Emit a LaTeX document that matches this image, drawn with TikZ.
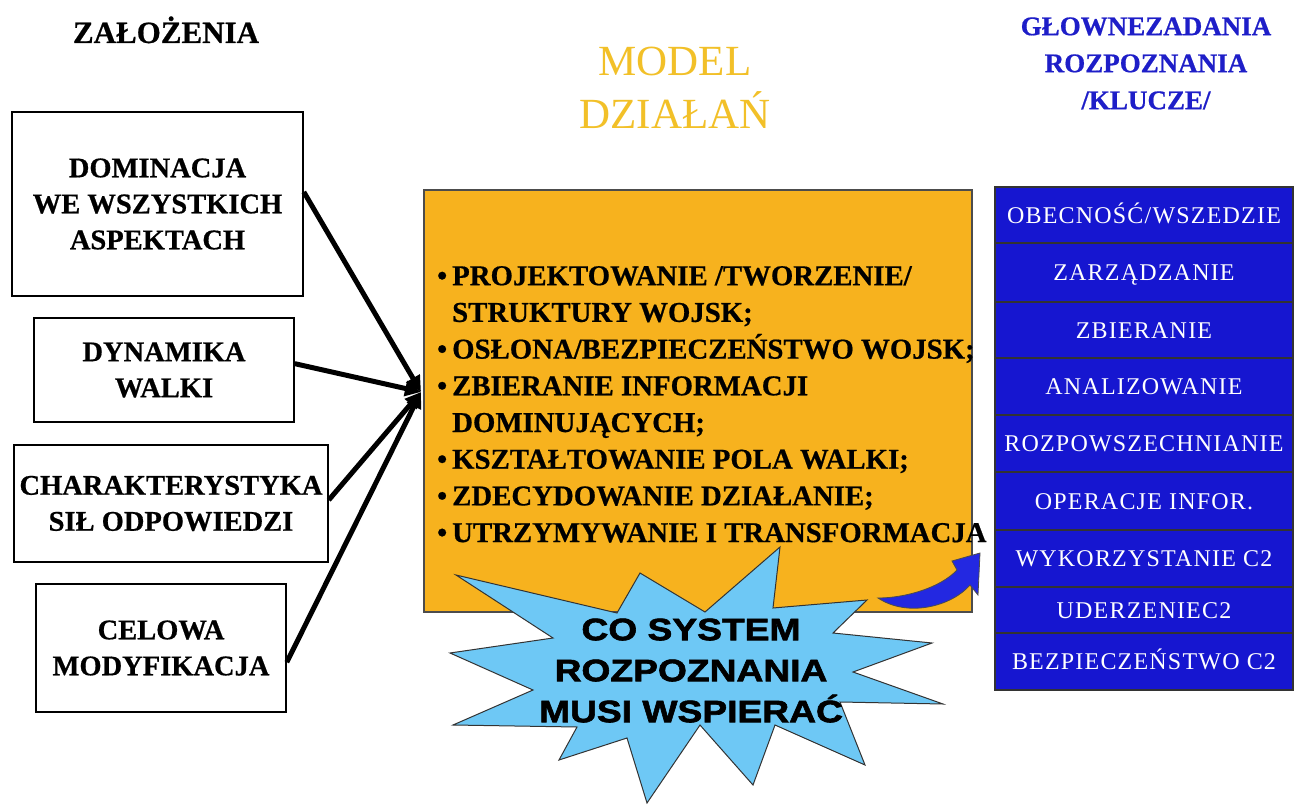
\documentclass[tikz,border=0pt]{standalone}
\usepackage{fontspec}
\setmainfont{Liberation Serif}[BoldFeatures={FakeBold=0.6}]
\newfontfamily\heavyfont[FakeStretch=1.2,FakeBold=2]{Liberation Sans}
\newfontfamily\tablefont[LetterSpace=5]{Liberation Serif}
\usetikzlibrary{arrows.meta,calc}
\definecolor{orangebox}{RGB}{247,178,30}
\definecolor{tableblue}{RGB}{22,22,208}
\definecolor{titleblue}{RGB}{30,30,200}
\definecolor{goldtext}{RGB}{242,192,40}
\definecolor{starblue}{RGB}{110,200,245}
\definecolor{arrowblue}{RGB}{35,40,225}
\newcommand\bul{\llap{\textbullet\hspace{5pt}}}
\begin{document}
\begin{tikzpicture}[x=1pt,y=-1pt,
  leftbox/.style={draw=black, line width=1.6pt, fill=white, inner sep=0pt, align=center,
    font=\fontsize{28.5}{36}\selectfont\bfseries},
  conn/.style={line width=5pt, -{Triangle[length=16pt,width=15pt]}},
  tablerow/.style={draw=black!80, line width=1.6pt, fill=tableblue, text=white,
    minimum width=298pt, inner sep=0pt, text height=16pt, text depth=0pt,
    font=\fontsize{24}{24}\tablefont},
]
\useasboundingbox (0,0) rectangle (1295,805);
\fill[white] (0,0) rectangle (1295,805);

% titles
\node[anchor=base, inner sep=0, font=\fontsize{31}{31}\selectfont\bfseries] (zal) at (166,43) {ZAŁOŻENIA};
\node[anchor=north, inner sep=0, align=center, text=goldtext, font=\fontsize{43}{53}\selectfont] (modeltitle) at (675,45) {\rule{0pt}{30pt}MODEL\\DZIAŁAŃ};
\node[anchor=north, inner sep=0, align=center, text=titleblue, font=\fontsize{27}{37}\selectfont\bfseries] (keytitle) at (1146,15) {\rule{0pt}{20pt}GŁOWNEZADANIA\\ROZPOZNANIA\\/KLUCZE/};

% orange model box
\node[draw=black!70, line width=1.2pt, fill=orangebox, minimum width=548pt, minimum height=422pt, inner sep=0pt] (model) at (698,401) {};
\node[anchor=north west, inner sep=0pt, align=left, font=\fontsize{28.8}{36.7}\selectfont\bfseries] (modeltext) at (452,265)
 {\rule{0pt}{20pt}\bul PROJEKTOWANIE /TWORZENIE/\\
  STRUKTURY WOJSK;\\
  \bul OSŁONA/BEZPIECZEŃSTWO WOJSK;\\
  \bul ZBIERANIE INFORMACJI\\
  DOMINUJĄCYCH;\\
  \bul KSZTAŁTOWANIE POLA WALKI;\\
  \bul ZDECYDOWANIE DZIAŁANIE;\\
  \bul UTRZYMYWANIE I TRANSFORMACJA};

% star
\draw[fill=starblue, draw=black!80, line width=1pt]
 (456,575) -- (617,613) -- (640,573) -- (705,612) -- (780,547) -- (773,608) --
 (867,600) -- (833,633) -- (932,643) -- (853,672) -- (943,704) -- (840,702) --
 (865,765) -- (775,725) -- (753,785) -- (700,725) -- (647,803) -- (627,738) --
 (559,760) -- (577,727) -- (453,725) -- (533,690) -- (450,653) -- (553,638) -- cycle;
\node[anchor=north, inner sep=0pt, align=center, font=\fontsize{31}{41}\heavyfont\bfseries] (startext) at (691,617)
 {\rule{0pt}{23pt}CO SYSTEM\\ROZPOZNANIA\\MUSI WSPIERAĆ};

% blue curved arrow
\draw[fill=arrowblue, draw=black!70, line width=0.8pt]
 (878,598) .. controls (905,598) and (940,588) .. (957,570) -- (952,561) -- (980,553) --
 (978,595) -- (970,585) .. controls (952,606) and (908,618) .. (878,598) -- cycle;

% left boxes
\node[leftbox, minimum width=291pt, minimum height=184pt] (b1) at (157.5,204) {DOMINACJA\\WE WSZYSTKICH\\ASPEKTACH};
\node[leftbox, minimum width=260pt, minimum height=104pt] (b2) at (164,370) {DYNAMIKA\\WALKI};
\node[leftbox, minimum width=314pt, minimum height=117pt] (b3) at (171,503.5) {CHARAKTERYSTYKA\\SIŁ ODPOWIEDZI};
\node[leftbox, minimum width=250pt, minimum height=128pt] (b4) at (161,648) {CELOWA\\MODYFIKACJA};

% connectors
\coordinate (hub) at (421,392);
\draw[conn] ($(b1.north east)!0.435!(b1.south east)$) -- (hub);
\draw[conn] ($(b2.north east)!0.44!(b2.south east)$) -- (hub);
\draw[conn] ($(b3.north east)!0.47!(b3.south east)$) -- (hub);
\draw[conn] ($(b4.north east)!0.61!(b4.south east)$) -- (hub);

% key tasks table
\node[tablerow, minimum height=56pt] (r1) at (1144,215) {OBECNOŚĆ/WSZEDZIE};
\node[tablerow, minimum height=59pt] (r2) at (1144,272.5) {ZARZĄDZANIE};
\node[tablerow, minimum height=56pt] (r3) at (1144,330) {ZBIERANIE};
\node[tablerow, minimum height=57pt] (r4) at (1144,386.5) {ANALIZOWANIE};
\node[tablerow, minimum height=57pt] (r5) at (1144,443.5) {ROZPOWSZECHNIANIE};
\node[tablerow, minimum height=58pt] (r6) at (1144,501) {OPERACJE INFOR.};
\node[tablerow, minimum height=57pt] (r7) at (1144,558.5) {WYKORZYSTANIE C2};
\node[tablerow, minimum height=46pt] (r8) at (1144,610) {UDERZENIEC2};
\node[tablerow, minimum height=57pt] (r9) at (1144,661.5) {BEZPIECZEŃSTWO C2};
\end{tikzpicture}
\end{document}
